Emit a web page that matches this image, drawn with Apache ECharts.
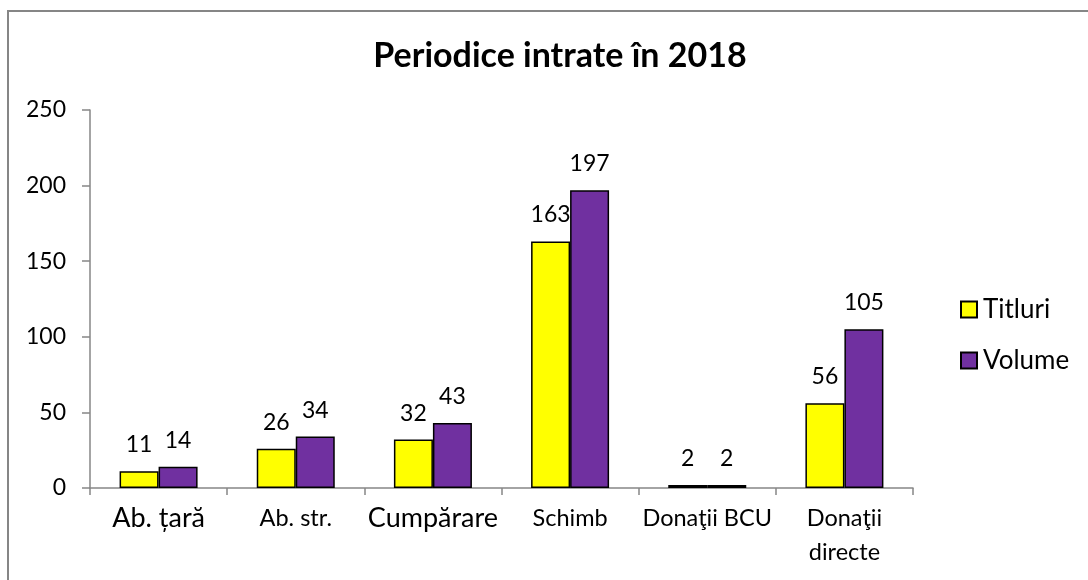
<!DOCTYPE html>
<html>
<head>
<meta charset="utf-8">
<script src="https://cdn.jsdelivr.net/npm/echarts@6/dist/echarts.min.js"></script>
<style>
  html, body { margin: 0; padding: 0; background: #fff; }
  #chart { width: 1088px; height: 580px; }
</style>
</head>
<body>
<div id="chart"></div>
<script>
// date din grafic
var categorii = ['Ab. țară', 'Ab. str.', 'Cumpărare', 'Schimb', 'Donaţii BCU', 'Donaţii\ndirecte'];
var titluri = [11, 26, 32, 163, 2, 56];
var volume = [14, 34, 43, 197, 2, 105];
var etichetaMare = [true, false, true, false, false, false]; // unele etichete sunt mai mari

var font = 'Lato, "Noto Sans", sans-serif';

var myChart = echarts.init(document.getElementById('chart'));

var option = {
  backgroundColor: '#fff',
  animation: false,
  graphic: [{
    type: 'rect',
    shape: { x: 8, y: 11, width: 1200, height: 700 },
    style: { fill: 'none', stroke: '#868686', lineWidth: 2 },
    silent: true
  }],
  title: {
    text: 'Periodice intrate în 2018',
    left: 555,
    top: 34,
    textAlign: 'center',
    textStyle: { fontFamily: font, fontWeight: 'bold', fontSize: 34, color: '#000' }
  },
  legend: {
    data: ['Titluri', 'Volume'],
    orient: 'vertical',
    left: 955,
    top: 290,
    icon: 'rect',
    itemWidth: 16,
    itemHeight: 16,
    itemGap: 22,
    textStyle: { fontFamily: font, fontSize: 26, color: '#000', lineHeight: 29, padding: [0, 0, 0, 1] }
  },
  grid: { left: 90, top: 110, right: 175, bottom: 92 },
  xAxis: {
    type: 'category',
    data: categorii,
    axisLine: { lineStyle: { color: '#868686', width: 1.5 } },
    axisTick: { show: true, length: 7, lineStyle: { color: '#868686', width: 1.5 } },
    axisLabel: {
      margin: 13,
      interval: 0,
      color: '#000',
      fontFamily: font,
      formatter: function (v, i) {
        return etichetaMare[i] ? '{m|' + v + '}' : '{s|' + v + '}';
      },
      rich: {
        m: { fontFamily: font, fontSize: 27, lineHeight: 34, color: '#000' },
        s: { fontFamily: font, fontSize: 23.5, lineHeight: 34, color: '#000' }
      }
    }
  },
  yAxis: {
    type: 'value',
    min: 0,
    max: 250,
    interval: 50,
    splitLine: { show: false },
    axisLine: { show: true, lineStyle: { color: '#868686', width: 1.5 } },
    axisTick: { show: true, length: 8, lineStyle: { color: '#868686', width: 1.5 } },
    axisLabel: { margin: 24, color: '#000', fontFamily: font, fontSize: 23 }
  },
  series: [
    {
      name: 'Titluri',
      type: 'bar',
      data: titluri,
      barWidth: 39,
      barGap: '0%',
      itemStyle: { color: '#ffff00', borderColor: '#000', borderWidth: 1.5 },
      label: { show: true, position: 'top', distance: 15, color: '#000', fontFamily: font, fontSize: 23 }
    },
    {
      name: 'Volume',
      type: 'bar',
      data: volume,
      barWidth: 39,
      barGap: '0%',
      itemStyle: { color: '#7030a0', borderColor: '#000', borderWidth: 1.5 },
      label: { show: true, position: 'top', distance: 15, color: '#000', fontFamily: font, fontSize: 23 }
    }
  ]
};

myChart.setOption(option);
</script>
</body>
</html>
